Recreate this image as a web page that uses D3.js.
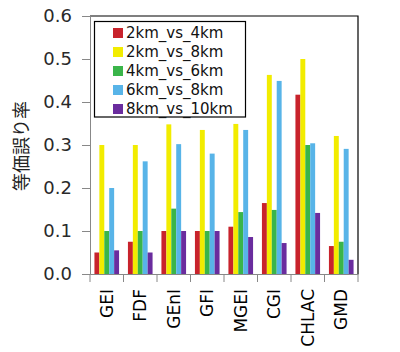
<!DOCTYPE html>
<html><head><meta charset="utf-8">
<script src="https://cdn.jsdelivr.net/npm/d3@7"></script>
<style>body{margin:0;background:#fff}svg{display:block}</style>
</head><body>
<svg id="c" width="400" height="352"></svg>
<script>
const categories = ["GEI","FDF","GEnI","GFI","MGEI","CGI","CHLAC","GMD"];
const seriesNames = ["2km_vs_4km","2km_vs_8km","4km_vs_6km","6km_vs_8km","8km_vs_10km"];
const s2vs4  = [0.050,0.075,0.100,0.100,0.110,0.165,0.417,0.065];
const s2vs8  = [0.300,0.300,0.348,0.335,0.349,0.463,0.500,0.321];
const s4vs6  = [0.100,0.100,0.152,0.100,0.144,0.149,0.300,0.075];
const s6vs8  = [0.200,0.262,0.302,0.280,0.335,0.449,0.304,0.291];
const s8vs10 = [0.055,0.050,0.100,0.100,0.086,0.072,0.142,0.033];
const yTicks = [0.0,0.1,0.2,0.3,0.4,0.5,0.6];
const colors = ["#c8232c","#f2ec00","#3ab54a","#58b4e8","#6a2c9e"];
const yLabel = "等価誤り率";

const series = [s2vs4,s2vs8,s4vs6,s6vs8,s8vs10];
const svg = d3.select("#c");
const L=90,R=358,T=16,B=274;
const x = d3.scaleBand().domain(categories).range([L,R]).paddingInner(0).paddingOuter(0);
const xi = d3.scaleBand().domain(seriesNames).range([0,x.bandwidth()]).paddingInner(0).paddingOuter(0.9);
const y = d3.scaleLinear().domain([0,0.6]).range([B,T]);

const g = svg.append("g");
categories.forEach((c,ci)=>{
  seriesNames.forEach((s,si)=>{
    g.append("rect")
      .attr("x", x(c)+xi(s))
      .attr("y", y(series[si][ci]))
      .attr("width", xi.bandwidth())
      .attr("height", y(0)-y(series[si][ci]))
      .attr("fill", colors[si]);
  });
});

// frame top/right
svg.append("path").attr("d",`M${L},${T}H${R}V${B}`).attr("fill","none").attr("stroke","#000").attr("stroke-width",1.2);

const font = "DejaVu Sans, Verdana, sans-serif";
const ya = svg.append("g").attr("transform",`translate(${L},0)`)
  .call(d3.axisLeft(y).tickValues(yTicks).tickFormat(d3.format(".1f")).tickSize(8).tickPadding(10));
ya.select(".domain").attr("stroke","#888");
ya.selectAll(".tick line").attr("stroke","#888");
ya.selectAll("text").attr("font-family",font).attr("font-size",18).attr("fill","#2a2a2a");

const xa = svg.append("g").attr("transform",`translate(0,${B})`)
  .call(d3.axisBottom(x).tickSize(0).tickPadding(0));
xa.select(".domain").attr("stroke","#888");
xa.selectAll(".tick text").remove();
// category separators
const seps = categories.map(c=>x(c)).concat([R]);
xa.selectAll(".sep").data(seps).enter().append("line")
  .attr("x1",d=>d).attr("x2",d=>d).attr("y1",0).attr("y2",8).attr("stroke","#888");
svg.append("g").selectAll("text").data(categories).enter().append("text")
  .attr("transform",d=>`translate(${x(d)+x.bandwidth()/2+6},${B+15}) rotate(-90)`)
  .attr("text-anchor","end").attr("font-family",font).attr("font-size",17).attr("fill","#000")
  .text(d=>d);

svg.append("text").attr("transform","translate(28,146) rotate(-90)")
  .attr("text-anchor","middle").attr("font-family","Noto Sans CJK JP, sans-serif").attr("font-size",18).attr("fill","#222")
  .text(yLabel);

// legend
const lg = svg.append("g");
lg.append("rect").attr("x",94.5).attr("y",21.5).attr("width",151).attr("height",95.5).attr("fill","#fff").attr("stroke","#000").attr("stroke-width",1.2);
seriesNames.forEach((s,i)=>{
  const yy = 28 + i*19;
  lg.append("rect").attr("x",113).attr("y",yy).attr("width",10).attr("height",10).attr("fill",colors[i]);
  lg.append("text").attr("x",126).attr("y",yy+9.5).attr("font-family",font).attr("font-size",15).attr("fill","#111").text(s);
});
</script>
</body></html>
